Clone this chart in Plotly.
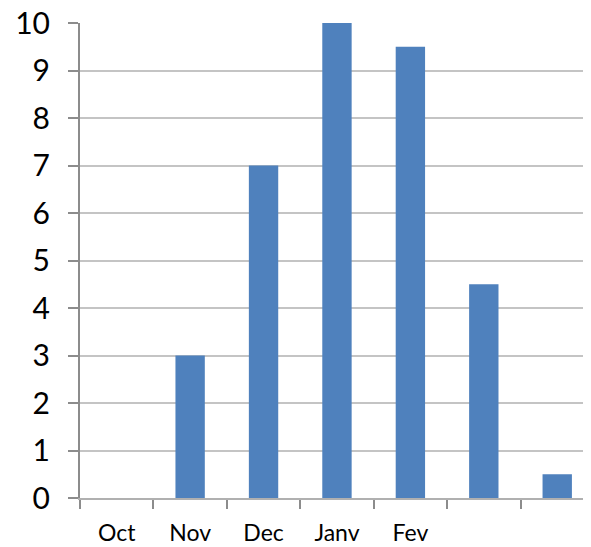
import plotly.graph_objects as go

categories = ["Oct", "Nov", "Dec", "Janv", "Fev", " ", "  "]
values = [0, 3, 7, 10, 9.5, 4.5, 0.5]
y_ticks = list(range(0, 11))

fig = go.Figure(
    go.Bar(
        x=categories,
        y=values,
        width=0.4,
        marker=dict(color="#4F81BD", line=dict(width=0)),
    )
)

# page body has an 8px default margin; size the figure to compensate
fig.update_layout(
    width=583,
    height=539,
    margin=dict(l=72, r=0, t=15, b=49),
    paper_bgcolor="white",
    plot_bgcolor="white",
    showlegend=False,
    font=dict(family="Lato, Carlito, sans-serif", color="black"),
)

fig.update_xaxes(
    type="category",
    categoryorder="array",
    categoryarray=categories,
    range=[-0.5, 6.46],
    tickson="boundaries",
    ticks="outside",
    ticklen=9,
    tickwidth=2,
    tickcolor="#8C8C8C",
    showline=True,
    linecolor="#B0B0B0",
    linewidth=2,
    showgrid=False,
    tickfont=dict(size=23),
    ticklabelstandoff=13,
    ticklabeloverflow="allow",
    automargin=False,
)

fig.update_yaxes(
    range=[0, 10],
    tickvals=y_ticks,
    ticks="outside",
    ticklen=10,
    tickwidth=2,
    tickcolor="#8C8C8C",
    showline=True,
    linecolor="#8C8C8C",
    linewidth=2,
    showgrid=True,
    gridcolor="#C4C4C4",
    gridwidth=2,
    zeroline=False,
    tickfont=dict(size=30),
    ticklabelstandoff=12,
    ticklabeloverflow="allow",
    automargin=False,
)

fig.write_html("out.html")
